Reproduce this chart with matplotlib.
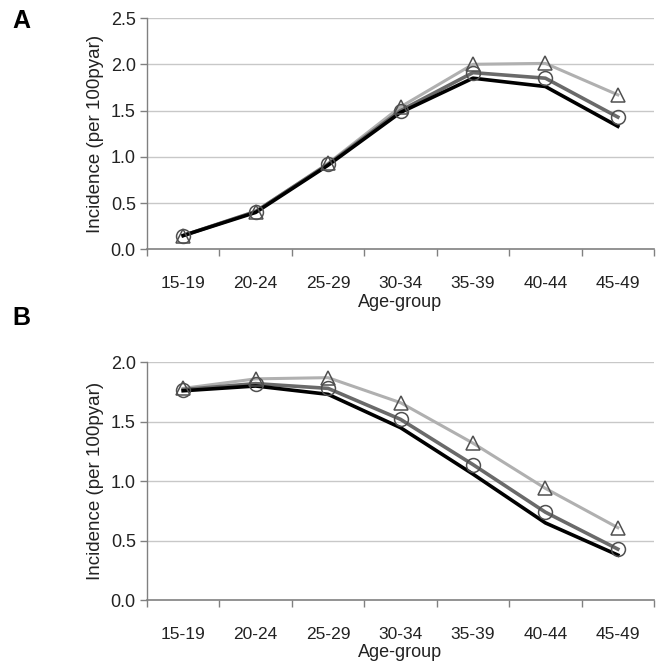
import matplotlib
matplotlib.use("Agg")
import matplotlib.pyplot as plt
import numpy as np

plt.rcParams['font.family'] = ['Liberation Sans', 'DejaVu Sans']

age_groups = ["15-19", "20-24", "25-29", "30-34", "35-39", "40-44", "45-49"]

a_black = [0.15, 0.40, 0.91, 1.48, 1.85, 1.76, 1.33]
a_circle = [0.15, 0.41, 0.92, 1.50, 1.91, 1.85, 1.43]
a_triangle = [0.15, 0.41, 0.93, 1.54, 2.00, 2.01, 1.67]

b_black = [1.76, 1.80, 1.73, 1.45, 1.06, 0.65, 0.38]
b_circle = [1.77, 1.82, 1.78, 1.52, 1.14, 0.74, 0.43]
b_triangle = [1.78, 1.86, 1.87, 1.66, 1.32, 0.94, 0.61]

a_ticks = [0.0, 0.5, 1.0, 1.5, 2.0, 2.5]
b_ticks = [0.0, 0.5, 1.0, 1.5, 2.0]

fig = plt.figure(figsize=(6.62, 6.67), dpi=100)
axA = fig.add_axes([0.222, 0.626, 0.766, 0.347])
axB = fig.add_axes([0.222, 0.100, 0.766, 0.357])

def draw(ax, black, circle, tri, ticks):
    x = np.arange(len(age_groups))
    ax.plot(x, tri, color='#b0b0b0', lw=2.2, zorder=3)
    ax.plot(x, circle, color='#6a6a6a', lw=2.6, zorder=4)
    ax.plot(x, black, color='#000000', lw=2.6, zorder=5)
    ax.plot(x, tri, ls='none', marker='^', ms=10, mfc='none', mec='#505050', mew=1.1, zorder=6)
    ax.plot(x, circle, ls='none', marker='o', ms=10, mfc='none', mec='#505050', mew=1.1, zorder=6)
    ax.set_xlim(-0.5, len(age_groups) - 0.5)
    ax.set_ylim(ticks[0], ticks[-1])
    ax.set_yticks(ticks)
    ax.set_yticklabels([f"{t:.1f}" for t in ticks])
    ax.set_xticks(x)
    ax.set_xticklabels(age_groups)
    ax.set_xticks(np.arange(len(age_groups) + 1) - 0.5, minor=True)
    ax.tick_params(axis='x', which='major', length=0, pad=19, labelsize=12.5, colors='#222222')
    ax.tick_params(axis='x', which='minor', length=5, width=1, color='#808080', direction='out')
    ax.tick_params(axis='y', length=5, width=1, color='#808080', labelsize=13, colors='#222222', pad=3)
    for t in ticks[1:]:
        ax.axhline(t, color='#c8c8c8', lw=1, zorder=1)
    for s in ['top', 'right']:
        ax.spines[s].set_visible(False)
    ax.spines['left'].set_color('#808080')
    ax.spines['bottom'].set_color('#808080')
    ax.spines['left'].set_linewidth(1)
    ax.spines['bottom'].set_linewidth(1.2)
    ax.set_xlabel("Age-group", fontsize=13, color='#222222', labelpad=2)
    ax.set_ylabel("Incidence (per 100pyar)", fontsize=13.5, color='#222222', labelpad=5)

draw(axA, a_black, a_circle, a_triangle, a_ticks)
draw(axB, b_black, b_circle, b_triangle, b_ticks)

fig.text(0.018, 0.968, "A", fontsize=18, fontweight='bold', va='center', ha='left')
fig.text(0.018, 0.523, "B", fontsize=18, fontweight='bold', va='center', ha='left')

fig.savefig("out.png", dpi=100)
